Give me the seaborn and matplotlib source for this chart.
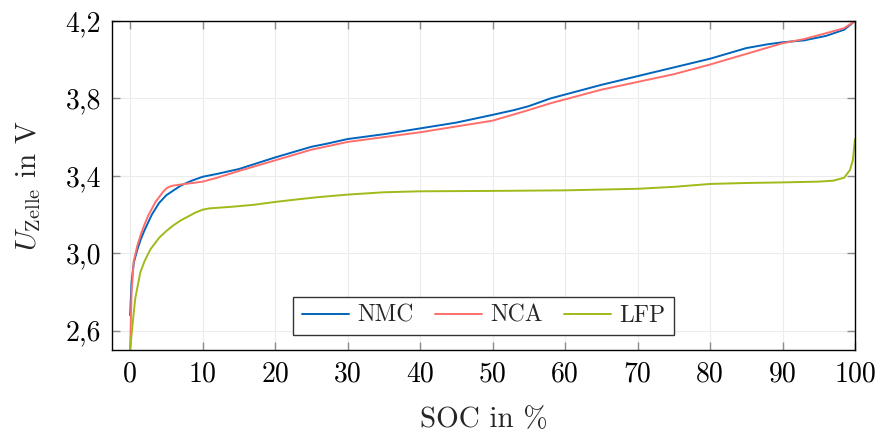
import numpy as np
import pandas as pd
import seaborn as sns
import matplotlib
matplotlib.use("Agg")
import matplotlib.pyplot as plt

# Open-circuit voltage curves of three cell chemistries over state of charge
nmc_soc = [0, 0.2, 0.5, 1, 1.5, 2, 2.5, 3, 3.5, 4, 4.5, 5, 6, 7, 8.5, 10, 12, 15,
           20, 25, 27, 30, 35, 40, 45, 50, 53, 55, 58, 60, 65, 70, 75, 80, 85, 88,
           90, 93, 96, 98.5, 100]
nmc_v = [2.68, 2.85, 2.95, 3.02, 3.075, 3.12, 3.16, 3.20, 3.23, 3.26, 3.28, 3.30,
         3.325, 3.35, 3.375, 3.395, 3.41, 3.435, 3.495, 3.55, 3.565, 3.59, 3.615,
         3.645, 3.675, 3.715, 3.74, 3.76, 3.80, 3.82, 3.87, 3.915, 3.96, 4.005,
         4.06, 4.08, 4.09, 4.10, 4.123, 4.155, 4.20]

nca_soc = [0, 0.2, 0.5, 1, 1.5, 2, 2.5, 3, 3.5, 4, 4.5, 5, 5.5, 6, 7, 8, 10, 12,
           15, 20, 25, 30, 35, 40, 45, 50, 55, 58, 60, 62, 65, 70, 75, 80, 85, 90,
           93, 96, 98.5, 100]
nca_v = [2.50, 2.80, 2.96, 3.04, 3.10, 3.15, 3.195, 3.23, 3.265, 3.29, 3.315,
         3.335, 3.345, 3.35, 3.355, 3.36, 3.37, 3.39, 3.425, 3.48, 3.535, 3.575,
         3.60, 3.625, 3.655, 3.685, 3.74, 3.775, 3.795, 3.815, 3.845, 3.885, 3.925,
         3.975, 4.03, 4.085, 4.107, 4.137, 4.163, 4.20]

lfp_soc = [0, 0.25, 0.7, 1.4, 2, 2.8, 4, 5, 6, 7, 8, 9, 10, 11, 14, 17, 20, 23, 26,
           30, 35, 40, 50, 60, 70, 75, 80, 85, 90, 95, 97, 98.5, 99.3, 99.7, 100]
lfp_v = [2.50, 2.60, 2.765, 2.90, 2.96, 3.02, 3.08, 3.115, 3.145, 3.17, 3.19, 3.21,
         3.225, 3.232, 3.24, 3.25, 3.265, 3.278, 3.29, 3.303, 3.315, 3.32, 3.322,
         3.325, 3.333, 3.343, 3.358, 3.363, 3.366, 3.37, 3.375, 3.39, 3.43, 3.48,
         3.59]

x_ticks = [0, 10, 20, 30, 40, 50, 60, 70, 80, 90, 100]
y_ticks = [2.6, 3.0, 3.4, 3.8, 4.2]
y_tick_labels = ["2,6", "3,0", "3,4", "3,8", "4,2"]

frames = []
for name, soc, v in [("NMC", nmc_soc, nmc_v), ("NCA", nca_soc, nca_v), ("LFP", lfp_soc, lfp_v)]:
    frames.append(pd.DataFrame({"SOC": soc, "U": v, "Zelle": name}))
df = pd.concat(frames, ignore_index=True)

palette = {"NMC": "#0065BD", "NCA": "#FF6E6A", "LFP": "#A2B91A"}

sns.set_theme(style="white")
plt.rcParams["font.family"] = ["cmr10", "DejaVu Serif"]
plt.rcParams["mathtext.fontset"] = "cm"
plt.rcParams["axes.formatter.use_mathtext"] = True

fig = plt.figure(figsize=(8.81, 4.32), dpi=100)
ax = fig.add_axes([112 / 881, 1 - 350 / 432, (855 - 112) / 881, (350 - 21) / 432])

sns.lineplot(data=df, x="SOC", y="U", hue="Zelle", palette=palette, sort=False,
             estimator=None, linewidth=1.4, ax=ax, zorder=3)
for line in ax.get_lines():
    line.set_solid_joinstyle("round")

ax.set_xlim(-2.5, 100)
ax.set_ylim(2.5, 4.2)
ax.set_xticks(x_ticks)
ax.set_xticklabels([str(t) for t in x_ticks])
ax.set_yticks(y_ticks)
ax.set_yticklabels(y_tick_labels)

ax.grid(True, color="#ececec", linewidth=0.8, zorder=0)
ax.set_axisbelow(True)
for s in ax.spines.values():
    s.set_color("black")
    s.set_linewidth(1.0)
    s.set_zorder(5)

ax.tick_params(axis="both", which="major", direction="in", length=6, width=1.0,
               color="#8c8c8c", top=True, right=True, bottom=True, left=True,
               labelsize=20, pad=8, labelcolor="black")

ax.set_xlabel("SOC in %", fontsize=21, labelpad=14)
ax.set_ylabel(r"$U_{\mathrm{Zelle}}$ in V", fontsize=21, labelpad=16)

leg = ax.legend(loc="lower center", bbox_to_anchor=(0.5, 0.045), ncol=3,
                frameon=True, fancybox=False, fontsize=17, handlelength=2.0,
                columnspacing=0.9, handletextpad=0.35, borderpad=0.35,
                borderaxespad=0.0)
leg.get_frame().set_edgecolor("#333333")
leg.get_frame().set_linewidth(1.0)
leg.get_frame().set_alpha(1.0)
for line in leg.get_lines():
    line.set_linewidth(1.4)

fig.savefig("out.png", dpi=100)
